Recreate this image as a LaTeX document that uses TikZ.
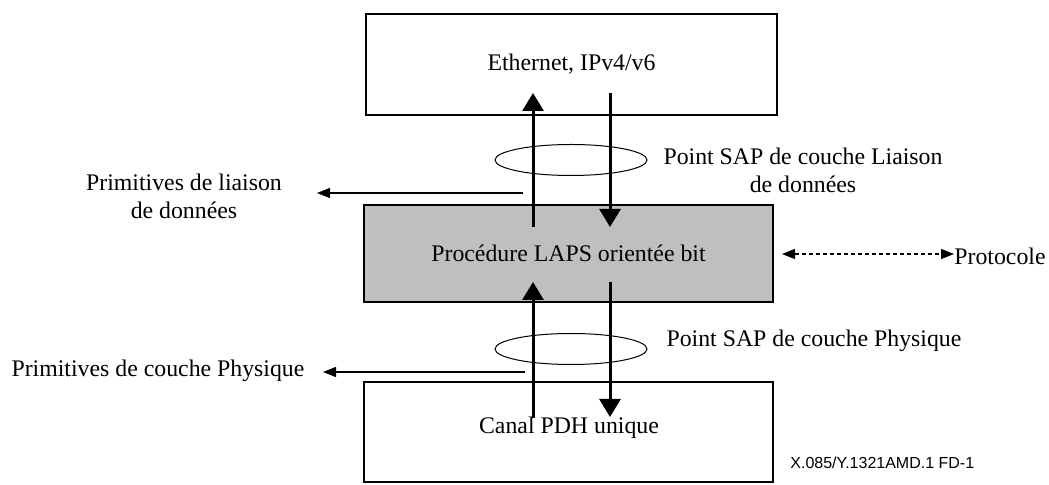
\documentclass[tikz,border=0pt]{standalone}
\usepackage{fontspec}
\setmainfont{Liberation Serif}
\newfontfamily\figfont{Liberation Sans}
\usepackage{xcolor}
\colorlet{colorLaps}{black!25}
\usepackage{tikz}
\usetikzlibrary{arrows.meta, positioning, shapes.geometric}
\tikzset{layer/.style={draw, line width=1pt, minimum width=205pt, minimum height=50pt, inner sep=0pt},
sapring/.style={draw, ellipse, line width=0.5pt, minimum width=76pt, minimum height=15.5pt, inner sep=0pt},
flow/.style={line width=1.5pt, -{Triangle[width=10.5pt, length=9pt]}},
prim/.style={line width=0.6pt, -{Triangle[width=5pt, length=6.5pt]}}}

\begin{document}
\begin{tikzpicture}[x=0.5pt, y=-0.5pt, font=\fontsize{11.9}{14}\selectfont, every node/.style={align=center}]
\useasboundingbox (0,0) rectangle (1049,485);
\node[layer, minimum width=205.5pt, minimum height=50.5pt] (eth) at (571.5,64.5) {Ethernet, IPv4/v6};
\node[layer, fill=colorLaps, minimum width=204.5pt, minimum height=48.5pt] (laps) at (568.5,253.5) {Proc\'edure LAPS orient\'ee bit};
\node[layer, minimum width=204.5pt, minimum height=50pt] (pdh) at (568.5,432) {};
\node (pdhtext) at (569,428) {Canal PDH unique};
\node[sapring] (sapdl) at (571,160) {};
\node[sapring] (sapph) at (571,349) {};
\coordinate (dlup0) at (533,227);
\coordinate (dlup1) at (533,93);
\coordinate (dldn0) at (610,93);
\coordinate (dldn1) at (610,227);
\coordinate (phup0) at (533,418);
\coordinate (phup1) at (533,282);
\coordinate (phdn0) at (610,282);
\coordinate (phdn1) at (610,417);
\draw[flow] (dlup0) -- (dlup1);
\draw[flow] (dldn0) -- (dldn1);
\draw[flow] (phup0) -- (phup1);
\draw[flow] (phdn0) -- (phdn1);
% primitives
\node (primdl) at (184,196) {Primitives de liaison\\de donn\'ees};
\node (primph) at (158,371) {Primitives de couche Physique};
\coordinate (primdl0) at (523,193);
\coordinate (primdl1) at (317,193);
\coordinate (primph0) at (525,372);
\coordinate (primph1) at (323,372);
\draw[prim] (primdl0) -- (primdl1);
\draw[prim] (primph0) -- (primph1);
% points SAP
\node (sapdltext) at (803,170) {Point SAP de couche Liaison\\de donn\'ees};
\node (sapphtext) at (814,341) {Point SAP de couche Physique};
% protocole
\node[anchor=west, inner sep=0pt] (proto) at (954,256) {Protocole};
\coordinate (proto0) at (782,254);
\draw[line width=0.6pt, dash pattern=on 2pt off 1.5pt, {Triangle[width=5pt, length=6.5pt]}-{Triangle[width=5pt, length=6.5pt]}] (proto0) -- (proto.west |- proto0);
\node[anchor=west, inner sep=0pt, font=\figfont\fontsize{8}{9}\selectfont] (figid) at (790,463) {X.085/Y.1321AMD.1 FD-1};
\end{tikzpicture}
\end{document}
